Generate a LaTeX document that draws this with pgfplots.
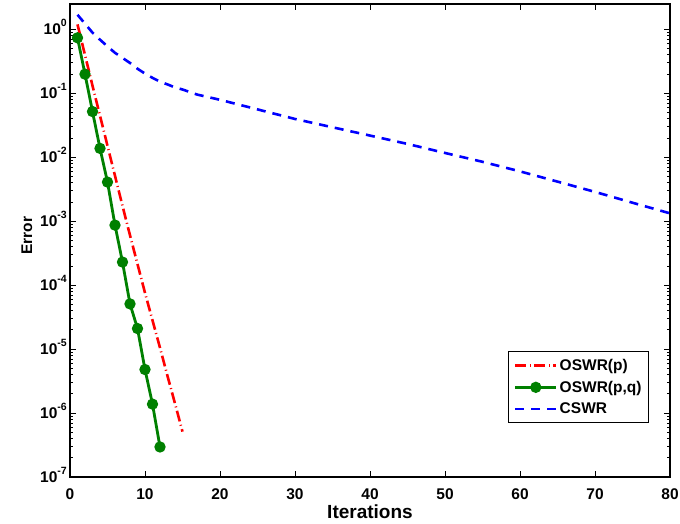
\documentclass[border=0pt]{standalone}
\usepackage{fontspec}
\setmainfont{Liberation Sans}
\usepackage{pgfplots}
\pgfplotsset{compat=1.18}

% MATLAB-like tick label 10^n in text font
\newcommand{\ep}[1]{10\raisebox{8.5pt}{\fontsize{10.5}{12}\selectfont #1}}

\definecolor{mblue}{RGB}{0,0,255}
\definecolor{mred}{RGB}{255,0,0}
\definecolor{mgreen}{RGB}{0,128,0}

\begin{document}
\begin{tikzpicture}
\begin{axis}[
    name=ax,
    scale only axis,
    width=600pt, height=473pt,
    xmin=0, xmax=80,
    ymode=log, ymin=1e-7, ymax=2.5,
    xtick={0,10,...,80},
    ytick={1e-7,1e-6,1e-5,1e-4,1e-3,1e-2,1e-1,1},
    yticklabels={\ep{-7},\ep{-6},\ep{-5},\ep{-4},\ep{-3},\ep{-2},\ep{-1},\ep{0}},
    /pgf/number format/assume math mode=true,
    tick label style={font=\fontsize{15.5}{18}\selectfont\bfseries},
    xticklabel style={anchor=base, inner sep=0pt, yshift=-22pt},
    yticklabel style={anchor=base east, inner sep=0pt, xshift=-3pt, yshift=-5.5pt},
    major tick length=6pt, minor tick length=3pt,
    every tick/.style={black, line width=0.8pt},
    axis line style={line width=1.2pt},
    xlabel={Iterations},
    ylabel={Error},
    xlabel style={font=\fontsize{19}{22}\selectfont\bfseries, at={(axis description cs:0.5,0)}, anchor=base, yshift=-41pt},
    ylabel style={font=\fontsize{15.5}{18}\selectfont\bfseries, at={(axis description cs:-0.0717,0.51)}, anchor=center},
    legend style={at={(1,0)}, anchor=south east, xshift=-21pt, yshift=54pt,
        font=\fontsize{15.5}{18}\selectfont\bfseries, draw=black, line width=1pt,
        inner xsep=5pt, inner ysep=5.5pt, row sep=5pt,
        nodes={inner sep=2pt}},
    legend cell align=left,
    legend image code/.code={
        \draw[mark repeat=2,mark phase=2,#1] plot coordinates {(0pt,0pt) (20.5pt,0pt) (41pt,0pt)};
    },
]
\addplot[mred, line width=2.6pt, dash pattern=on 11pt off 3.5pt on 1pt off 3.5pt] coordinates {
    (1,1.20) (2,0.398) (3,0.132) (4,0.0447) (5,0.0151) (6,5.13e-3) (7,1.74e-3)
    (8,6.03e-4) (9,2.14e-4) (10,7.59e-5) (11,2.82e-5) (12,1.05e-5) (13,3.80e-6)
    (14,1.41e-6) (15,5.13e-7)
};
\addlegendentry{OSWR(p)}
\addplot[mgreen, line width=2.8pt, mark=*, mark size=4.2pt, mark options={solid, fill=mgreen}] coordinates {
    (1,0.74) (2,0.20) (3,0.052) (4,0.0138) (5,0.0041) (6,8.7e-4) (7,2.3e-4)
    (8,5.1e-5) (9,2.1e-5) (10,4.8e-6) (11,1.38e-6) (12,2.95e-7)
};
\addlegendentry{OSWR(p,q)}
\addplot[mblue, line width=2.6pt, dash pattern=on 9pt off 7pt] coordinates {
    (1,1.698) (2,1.230) (3,0.891) (4,0.692) (5,0.543) (6,0.431) (7,0.359) (8,0.299)
    (9,0.243) (10,0.204) (11,0.175) (12,0.153) (13,0.138) (14,0.124) (15,0.115)
    (17,0.0955) (20,0.0794) (25,0.0562) (30,0.0398) (35,0.0295) (40,0.0219)
    (45,0.0162) (50,0.0117) (55,0.00851) (60,0.00603) (65,0.00417) (70,0.00288)
    (75,0.00195) (80,0.00133)
};
\addlegendentry{CSWR}
\end{axis}
\pgfresetboundingbox
\path[use as bounding box] ([shift={(-70pt,-46pt)}]ax.south west) rectangle ([shift={(610pt,477pt)}]ax.south west);
\end{tikzpicture}
\end{document}
